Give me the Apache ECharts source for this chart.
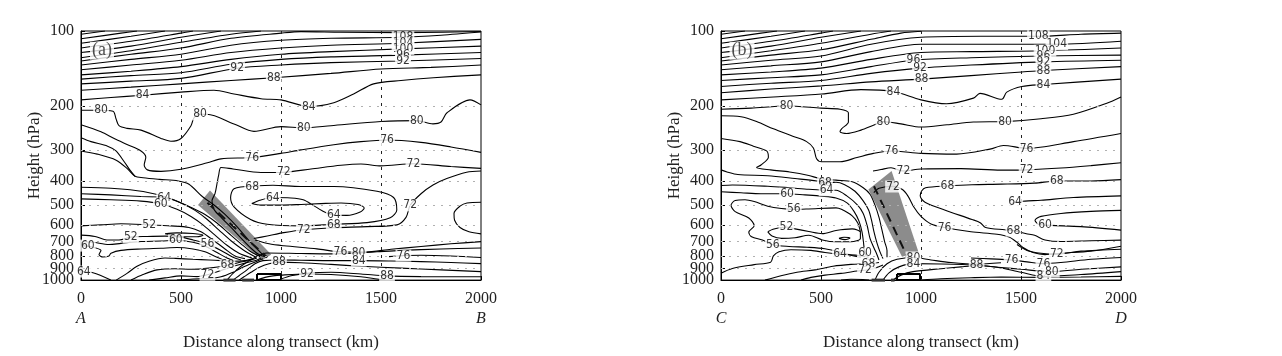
<!DOCTYPE html>
<html>
<head>
<meta charset="utf-8">
<script src="https://cdn.jsdelivr.net/npm/echarts@6/dist/echarts.min.js"></script>
<style>
html,body{margin:0;padding:0;background:#fff;}
#chart{width:1282px;height:356px;}
</style>
</head>
<body>
<div id="chart"></div>
<script>
// pressure ticks (hPa) and distance ticks (km)
const pTicks = [100,200,300,400,500,600,700,800,900,1000];
const pLabelsOdd = [100,300,500,700,900];
const pLabelsEven = [200,400,600,800,1000];
const pGrid = [200,300,400,500,600,700,800,900];
const xGrid = [500,1000,1500];

// ---------- panel (a) : contour lines as [km, hPa] ----------
const upperA = [
  [[0,189],[150,185],[308,181],[500,176],[665,173],[765,179],[900,187],[1000,189],[1139,201],[1264,194],[1363,179],[1463,163],[1600,158],[1762,154],[2000,150]],
  [[0,173],[250,168],[500,163],[750,158],[964,154],[1250,148],[1500,142],[1750,140],[2000,137]],
  [[0,163],[250,159],[500,155],[781,141],[1000,137],[1250,134],[1600,132],[2000,129]],
  [[0,156],[250,151],[500,147],[750,136],[1000,130],[1250,127],[1600,125],[2000,122]],
  [[0,150],[250,145],[500,139],[750,130],[1000,124],[1250,121],[1600,118],[2000,115]],
  [[0,143],[250,137],[500,131],[750,122],[1000,117],[1250,114],[1600,112],[2000,108]],
  [[0,137],[250,130],[500,124],[750,114],[1000,109],[1250,107],[1600,106],[1800,104],[2000,101]],
  [[0,132],[250,124],[500,117],[750,107],[1000,102],[1100,100.6],[1300,101.2],[1600,101.5],[2000,100.5]],
  [[0,128],[250,120],[500,111],[750,103],[900,100]],
  [[0,122],[250,115],[500,106],[700,100]],
  [[0,117],[250,110],[500,102],[560,100]],
  [[0,112],[250,105],[420,100]],
  [[0,107.5],[200,102],[280,100]],
  [[0,103],[120,100]]
];
const midA = [
  [[0,208],[80,208],[160,210],[175,225],[190,240],[230,246],[300,250],[400,270],[450,277],[500,270],[550,240],[565,223],[595,216],[630,216],[765,236],[865,253],[1000,242],[1114,245],[1250,240],[1500,231],[1679,229],[1760,236],[1800,232],[1830,213],[1945,189],[2000,198]],
  [[0,238],[100,254],[166,270],[233,286],[300,303],[324,321],[316,345],[332,361],[400,366],[500,359],[632,338],[700,326],[856,322],[1000,310],[1100,300],[1264,286],[1400,278],[1530,274],[1700,280],[1850,292],[2000,307]],
  [[0,268],[50,278],[133,290],[175,303],[216,335],[245,362],[270,383]],
  [[2000,356],[1850,350],[1662,341],[1500,348],[1400,342],[1300,346],[1150,358],[1014,369],[900,370],[760,358],[700,353],[688,380],[682,402],[670,450],[655,480],[665,520],[705,565],[755,620],[805,685],[850,745],[890,790],[925,808]],
  [[856,420],[960,416],[1097,421],[1264,421],[1480,440],[1563,466],[1579,523],[1546,562],[1430,588],[1264,597],[1097,606],[931,597],[848,571],[765,508],[748,466],[765,430],[856,420]],
  [[854,493],[894,478],[959,466],[1050,468],[1111,476],[1160,500],[1206,527],[1264,548],[1330,550],[1396,533],[1416,513],[1385,497],[1300,490],[1200,493],[1100,497],[1000,500],[900,500],[854,493]],
  [[864,681],[931,665],[1014,645],[1114,628],[1264,616],[1430,610],[1580,600],[1625,560],[1646,501],[1700,450],[1760,415],[1829,391],[1928,369],[2000,365]],
  [[2000,487],[1930,490],[1895,505],[1865,540],[1868,575],[1895,615],[1940,640],[2000,652]]
];
const frontA = [
  [[0,303],[81,312],[176,330],[230,356],[270,383],[311,388],[392,394],[486,400],[540,412],[608,463],[662,497],[720,545],[780,610],[830,680],[880,750],[915,800]],
  [[0,424],[150,428],[311,441],[446,470],[554,512],[620,545],[680,590],[740,650],[800,715],[850,770],[895,805]],
  [[0,450],[150,455],[300,462],[416,466],[500,490],[570,525],[630,570],[690,630],[750,695],[810,755],[875,810]],
  [[0,472],[150,476],[300,482],[399,494],[480,520],[550,555],[610,600],[670,660],[730,725],[790,780],[855,815]],
  [[0,606],[100,600],[200,594],[341,600],[450,606],[540,615],[600,640],[660,690],[720,750],[770,800],[820,820]],
  [[0,660],[70,668],[130,690],[190,690],[249,672],[330,668],[420,666],[500,672],[560,690],[632,717],[700,760],[760,810],[800,830]],
  [[420,652],[480,646],[560,650],[610,660],[580,670],[500,668],[420,652]],
  [[0,700],[60,705],[140,720],[200,712],[300,700],[400,697],[474,692],[560,705],[620,730],[680,775],[730,815],[770,840]],
  [[0,727],[50,735],[100,760],[90,790],[110,808],[140,800],[150,780],[200,760],[300,750],[400,745],[480,740],[560,750],[620,770],[680,810],[712,830]]
];
const lowerA = [
  [[0,924],[60,935],[149,1000]],
  [[176,1000],[230,940],[280,880],[340,840],[420,815],[473,818],[560,825],[640,830],[700,835],[760,840],[820,835],[860,820]],
  [[250,1000],[310,950],[380,910],[470,900],[550,905],[640,895],[732,872],[790,850],[850,830],[880,815]],
  [[340,1000],[420,980],[500,962],[580,968],[632,952],[700,915],[760,880],[820,855],[880,830],[900,815]],
  [[480,1000],[560,990],[640,985],[700,970],[760,930],[820,880],[880,840],[910,820]],
  [[870,690],[940,715],[1014,728],[1180,749],[1297,770],[1420,772],[1550,752],[1700,733],[1850,715],[2000,701]],
  [[730,1000],[760,940],[800,880],[860,820],[930,778],[1100,782],[1250,785],[1388,778],[1480,770],[1600,760],[1800,750],[2000,743]],
  [[1540,805],[1612,797],[1700,795],[1850,800],[2000,811]],
  [[760,1000],[790,960],[830,910],[870,860],[910,835],[990,830],[1100,832],[1250,835],[1389,835],[1550,838],[1700,843],[1850,850],[2000,859]],
  [[790,1000],[815,970],[850,930],[890,890],[940,860],[990,847],[1100,852],[1250,865],[1400,880],[1600,895],[1800,910],[2000,925]],
  [[1000,990],[1050,960],[1150,935],[1250,930],[1400,945],[1530,962],[1700,968],[2000,970]],
  [[880,1000],[920,975],[960,962],[1000,955],[1130,945],[1250,950],[1400,970],[1480,990],[1520,1000]]
];
const labelsA = [
  [1610,106,'108'],[1610,112,'104'],[1610,118,'100'],[1610,125,'96'],[1610,132,'92'],
  [781,141,'92'],[964,154,'88'],[308,181,'84'],[1139,201,'84'],
  [100,208,'80'],[595,216,'80'],[1114,245,'80'],[1679,229,'80'],
  [856,322,'76'],[1530,274,'76'],[1662,341,'72'],[1014,369,'72'],
  [856,421,'68'],[959,467,'64'],[1264,548,'64'],[1264,600,'68'],[1114,628,'72'],[1646,501,'72'],
  [416,466,'64'],[399,494,'60'],[341,600,'52'],[249,672,'52'],[474,692,'60'],[632,717,'56'],
  [34,727,'60'],[14,924,'64'],[732,872,'68'],[632,952,'72'],
  [1297,770,'76'],[1388,778,'80'],[1389,835,'84'],[1612,797,'76'],[990,847,'88'],[1130,945,'92'],[1530,962,'88']
];
const bandA = [[645,437],[585,500],[906,835],[951,790]];
const axisA = [[632,489],[931,811]];
const barsA = [[[712,1000],[773,1000]],[[806,1000],[865,1000]]];
const boxA = [[880,945],[1000,945],[1000,1000],[880,1000],[880,945]];

// ---------- panel (b) ----------
const upperB = [
  [[0,189],[262,184],[503,179],[700,172],[862,175],[1000,189],[1128,196],[1262,186],[1295,178],[1404,188],[1429,176],[1504,167],[1612,164],[2000,156]],
  [[0,177],[250,171],[503,166],[750,160],[1003,156],[1250,151],[1504,146],[1612,144],[2000,139]],
  [[0,167],[250,162],[500,158],[750,148],[995,141],[1250,137],[1612,133],[2000,131]],
  [[0,158],[250,154],[500,150],[750,139],[962,131],[1250,128],[1612,126],[2000,125]],
  [[0,150],[250,146],[500,141],[750,130],[1000,122],[1250,121],[1612,120],[2000,117]],
  [[0,143],[250,138],[500,133],[750,121],[1000,113],[1300,113],[1679,113],[2000,110]],
  [[0,137],[250,131],[500,126],[750,113],[1000,106],[1300,105],[1587,105],[1800,103],[2000,102]],
  [[0,132],[250,125],[500,119],[750,108],[900,102],[1000,100.3]],
  [[0,128],[250,120],[500,112],[750,103],[850,100]],
  [[0,122],[250,115],[500,106],[700,100]],
  [[0,117],[250,110],[500,102],[560,100]],
  [[0,112],[250,105],[420,100]],
  [[0,107.5],[200,102],[280,100]],
  [[0,103],[120,100]]
];
const midB = [
  [[0,206],[150,204],[328,200],[500,204],[595,206],[637,213],[637,232],[603,247],[595,254],[628,258],[700,250],[762,239],[812,231],[900,236],[1000,243],[1130,238],[1262,232],[1420,231],[1600,225],[1762,216],[1929,195],[2000,184]],
  [[0,219],[100,221],[178,231],[262,247],[362,265],[428,278],[462,295],[478,326],[503,335],[595,335],[680,322],[762,310],[853,303],[1000,310],[1178,312],[1345,298],[1412,288],[1528,296],[1762,278],[2000,258]],
  [[0,270],[95,278],[162,290],[228,303],[237,321],[200,345],[178,353],[248,361],[343,368],[439,380],[493,391],[575,397],[656,403],[711,426],[745,452],[770,500],[790,560],[805,630],[818,700],[830,760],[830,810]],
  [[760,365],[800,360],[850,354],[912,365],[1000,358],[1200,357],[1400,362],[1528,361],[1700,355],[1850,347],[2000,338]],
  [[764,445],[790,428],[860,420],[905,432],[935,460],[965,510],[1000,555],[1050,595],[1118,615],[1250,640],[1380,655],[1440,672],[1480,705],[1510,740],[1560,775],[1620,790],[1700,780],[1850,765],[2000,731]],
  [[2000,395],[1850,400],[1679,400],[1568,408],[1400,412],[1255,414],[1132,419],[1023,426],[1003,439],[996,459],[1020,487],[1118,523],[1255,571],[1296,588],[1323,615],[1418,628],[1462,633],[1527,651],[1568,661],[1620,690],[1700,700],[1850,695],[2000,691]],
  [[1450,500],[1462,488],[1520,482],[1600,478],[1762,466],[2000,459]],
  [[2000,525],[1850,530],[1700,540],[1600,555],[1570,575],[1590,598],[1650,603],[1800,610],[2000,630]],
  [[1480,720],[1530,760],[1600,780],[1679,787],[1800,765],[2000,752]]
];
const frontB = [
  [[0,361],[30,368],[84,377],[234,381],[370,391],[479,400],[520,408],[575,405],[616,413],[670,440],[711,481],[738,523],[752,572],[765,640],[780,710],[795,770],[810,820]],
  [[0,417],[57,415],[234,420],[343,426],[439,432],[528,436],[575,436],[629,459],[684,501],[711,540],[731,605],[745,680],[765,743],[779,787],[790,830]],
  [[0,442],[100,446],[200,450],[330,450],[420,455],[500,460],[575,468],[630,490],[665,530],[690,580],[705,640],[712,700],[720,781],[740,830]],
  [[697,640],[684,590],[656,552],[602,520],[575,513],[439,518],[364,520],[302,516],[234,505],[166,484],[120,476],[71,479],[50,501],[71,531],[139,563],[166,605],[139,642],[153,670],[207,690],[259,721],[340,733],[430,738],[520,748],[590,770],[650,795],[700,810]],
  [[234,640],[260,625],[327,612],[370,623],[439,638],[507,651],[575,632],[656,623],[697,642],[697,680],[650,702],[575,702],[507,690],[439,661],[370,676],[302,680],[255,665],[234,640]],
  [[590,680],[615,673],[645,678],[620,688],[590,680]]
];
const lowerB = [
  [[0,938],[57,898],[166,867],[248,847],[262,800],[290,770],[350,755],[450,760],[520,775],[595,787],[680,795],[740,810]],
  [[220,1000],[300,960],[380,930],[470,910],[560,880],[650,865],[737,859],[790,850]],
  [[400,1000],[450,975],[520,955],[600,940],[680,920],[720,911],[770,895],[810,870]],
  [[600,1000],[650,992],[710,994],[740,1000]],
  [[1250,815],[1350,822],[1453,830],[1530,845],[1612,859],[1700,850],[1850,825],[2000,811]],
  [[770,1000],[790,930],[830,860],[880,825],[962,811],[1050,830],[1150,850],[1278,862],[1400,852]],
  [[810,1000],[840,935],[890,885],[962,859],[1100,862],[1278,872],[1400,890],[1500,905],[1654,925],[1800,905],[2000,885]],
  [[860,1000],[900,955],[960,925],[1100,900],[1200,885],[1278,876],[1380,888],[1500,930],[1612,966],[1800,950],[2000,925]],
  [[1000,1000],[1100,988],[1250,978],[1400,972],[1600,975],[1800,972],[2000,966]]
];
const labelsB = [
  [1587,105,'108'],[1679,113,'104'],[1620,120,'100'],[1612,126,'96'],[1612,133,'92'],[1612,144,'88'],[1612,164,'84'],
  [962,131,'96'],[995,141,'92'],[1003,156,'88'],[862,175,'84'],
  [328,200,'80'],[812,231,'80'],[1420,231,'80'],[853,303,'76'],[1528,296,'76'],
  [912,365,'72'],[1528,361,'72'],[860,421,'72'],[1118,615,'76'],[1132,419,'68'],[1679,400,'68'],
  [1462,633,'68'],[1470,487,'64'],[1620,601,'60'],[1679,787,'72'],[1453,830,'76'],[1612,859,'76'],
  [962,811,'80'],[962,859,'84'],[1278,872,'88'],[1612,966,'84'],[1654,925,'80'],
  [520,408,'68'],[528,436,'64'],[330,450,'60'],[364,520,'56'],[327,612,'52'],[259,721,'56'],
  [595,787,'64'],[720,781,'60'],[737,859,'68'],[720,911,'72']
];
const bandB = [[737,433],[853,365],[987,769],[905,806]];
const axisB = [[765,420],[930,800]];
const barsB = [[[753,1000],[820,1000]],[[850,1000],[868,1000]]];
const boxB = [[880,945],[995,945],[995,1000],[880,1000],[880,945]];

const serif = "'Liberation Serif','DejaVu Serif',serif";
const narrow = "'Liberation Sans Narrow','DejaVu Sans Condensed','Liberation Sans',sans-serif";

const panels = [
  {lines: upperA.concat(midA, frontA, lowerA), labels: labelsA, band: bandA, axis: axisA, bars: barsA, box: boxA, tag: '(a)', ends: ['A','B']},
  {lines: upperB.concat(midB, frontB, lowerB), labels: labelsB, band: bandB, axis: axisB, bars: barsB, box: boxB, tag: '(b)', ends: ['C','D']}
];

const chart = echarts.init(document.getElementById('chart'));
const series = [];

panels.forEach((pn, i) => {
  // shaded frontal zone
  series.push({
    type: 'custom', xAxisIndex: i, yAxisIndex: i, silent: true, z: 1,
    data: [pn.band[0]],
    renderItem: (params, api) => ({
      type: 'polygon',
      shape: {points: pn.band.map(d => api.coord(d))},
      style: {fill: '#8c8c8c'}
    })
  });
  // dotted reference lines
  series.push({
    type: 'line', xAxisIndex: i, yAxisIndex: i, data: [], silent: true, z: 1,
    markLine: {
      silent: true, symbol: 'none', label: {show: false},
      data: pGrid.map(v => ({yAxis: v, lineStyle: {color: '#b0b0b0', type: [2, 6], width: 1}}))
        .concat(xGrid.map(v => ({xAxis: v, lineStyle: {color: '#222', type: [3, 5], width: 1}})))
    }
  });
  pn.lines.forEach(l => {
    series.push({
      type: 'line', xAxisIndex: i, yAxisIndex: i, data: l, smooth: 0.3,
      showSymbol: false, silent: true, z: 3, clip: true,
      lineStyle: {color: '#000', width: 1.1}
    });
  });
  series.push({
    type: 'line', xAxisIndex: i, yAxisIndex: i, data: pn.axis, showSymbol: false, silent: true, z: 4,
    lineStyle: {color: '#111', width: 2, type: [9, 6]}
  });
  pn.bars.forEach(b => {
    series.push({
      type: 'line', xAxisIndex: i, yAxisIndex: i, data: b, showSymbol: false, silent: true, z: 4, clip: false,
      lineStyle: {color: '#333', width: 3}
    });
  });
  series.push({
    type: 'line', xAxisIndex: i, yAxisIndex: i, data: pn.box, showSymbol: false, silent: true, z: 4, clip: false,
    lineStyle: {color: '#000', width: 2}
  });
  series.push({
    type: 'scatter', xAxisIndex: i, yAxisIndex: i, data: pn.labels, symbolSize: 1, silent: true, z: 6,
    itemStyle: {color: 'rgba(0,0,0,0)'},
    label: {
      show: true, position: 'inside', formatter: p => p.value[2],
      fontFamily: narrow, fontSize: 12, color: '#000',
      backgroundColor: '#fff', padding: [0, 1, 0, 1]
    }
  });
  series.push({
    type: 'scatter', xAxisIndex: i, yAxisIndex: i, data: [[105, 120, pn.tag]], symbolSize: 1, silent: true, z: 6,
    itemStyle: {color: 'rgba(0,0,0,0)'},
    label: {
      show: true, position: 'inside', formatter: p => p.value[2],
      fontFamily: serif, fontSize: 18, color: '#222',
      backgroundColor: '#fff', padding: [0, 2, 0, 2]
    }
  });
});

// pressure axis: labels split over two overlaid axes so that no label gets hidden
const yBase = (i) => ({
  gridIndex: i, type: 'log', logBase: 10, min: 100, max: 1000, inverse: true, position: 'left', offset: 0,
  minorTick: {show: false}, splitLine: {show: false}
});
const yLabel = {margin: 7, fontFamily: serif, fontSize: 16, color: '#222', formatter: v => String(Math.round(v))};

const option = {
  animation: false,
  backgroundColor: '#fff',
  grid: panels.map((p, i) => ({
    left: 81 + i * 640, top: 31, width: 400, height: 263,
    show: true, borderColor: '#000', borderWidth: 1, backgroundColor: 'transparent'
  })),
  xAxis: panels.map((pn, i) => ({
    gridIndex: i, type: 'value', min: 0, max: 2000, interval: 500,
    name: 'Distance along transect (km)', nameLocation: 'middle', nameGap: 33,
    nameTextStyle: {fontFamily: serif, fontSize: 17, color: '#222'},
    axisLine: {lineStyle: {color: '#000', width: 1}},
    axisTick: {inside: true, length: 4, lineStyle: {color: '#000'}},
    splitLine: {show: false},
    axisLabel: {
      margin: 9, fontFamily: serif, fontSize: 16, color: '#222', lineHeight: 20,
      showMinLabel: true, showMaxLabel: true,
      formatter: v => v === 0 ? '0\n{it|' + pn.ends[0] + '}' : (v === 2000 ? '2000\n{it|' + pn.ends[1] + '}' : String(v)),
      rich: {it: {fontStyle: 'italic', fontFamily: serif, fontSize: 16, color: '#222', lineHeight: 20}}
    }
  })),
  yAxis: panels.map((pn, i) => Object.assign(yBase(i), {
    name: 'Height (hPa)', nameLocation: 'middle', nameGap: 38, nameRotate: 90,
    nameTextStyle: {fontFamily: serif, fontSize: 17, color: '#222'},
    axisLine: {show: true, lineStyle: {color: '#000', width: 1}},
    axisTick: {show: true, inside: true, length: 4, customValues: pTicks, lineStyle: {color: '#000'}},
    axisLabel: Object.assign({customValues: pLabelsOdd, showMinLabel: true, showMaxLabel: true}, yLabel)
  })).concat(panels.map((pn, i) => Object.assign(yBase(i), {
    axisLine: {show: false},
    axisTick: {show: false},
    axisLabel: Object.assign({customValues: pLabelsEven, showMinLabel: true, showMaxLabel: true}, yLabel)
  }))),
  series: series
};
chart.setOption(option);
</script>
</body>
</html>
